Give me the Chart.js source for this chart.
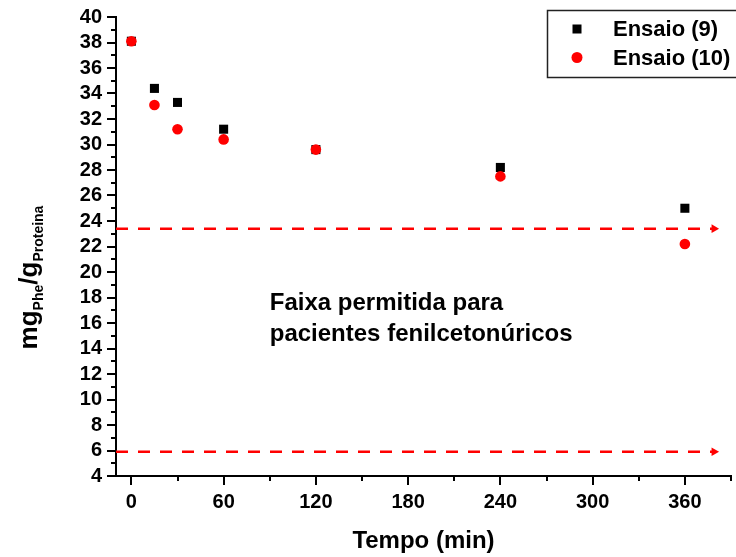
<!DOCTYPE html>
<html><head><meta charset="utf-8">
<script src="https://cdn.jsdelivr.net/npm/chart.js@4.4.0/dist/chart.umd.min.js"></script>
<style>html,body{margin:0;padding:0;background:#fff}#wrap{width:736px;height:557px;position:relative}</style>
</head><body><div id="wrap"><canvas id="c"></canvas></div>
<script>
const times = [0, 15, 30, 60, 120, 240, 360];
const ensaio9 = [38.1, 34.4, 33.3, 31.2, 29.6, 28.2, 25.0];
const ensaio10 = [38.1, 33.1, 31.2, 30.4, 29.6, 27.5, 22.2];
const seriesLabels = ['Ensaio (9)', 'Ensaio (10)'];
const limitUpper = 23.4;
const limitLower = 5.9;
const limitX = [-10, 379];
const xTicks = [0, 60, 120, 180, 240, 300, 360];
const xMinorTicks = [30, 90, 150, 210, 270, 330, 390];
const yTicks = [4, 6, 8, 10, 12, 14, 16, 18, 20, 22, 24, 26, 28, 30, 32, 34, 36, 38, 40];
const yMinorTicks = [5, 7, 9, 11, 13, 15, 17, 19, 21, 23, 25, 27, 29, 31, 33, 35, 37, 39];
const xRange = [-10, 390];
const yRange = [4, 40];
const xTitle = 'Tempo (min)';
const yTitleParts = [['mg', false], ['Phe', true], ['/g', false], ['Proteina', true]];
const annotationLines = ['Faixa permitida para', 'pacientes fenilcetonúricos'];

const FONT = "'Liberation Sans', Arial, sans-serif";
const RED = '#ff0000';

const pts = (ys) => times.map((t, i) => ({x: t, y: ys[i]}));
const hline = (v) => limitX.map(x => ({x: x, y: v}));

const limitStyle = {
  type: 'line', showLine: true, borderColor: RED, borderWidth: 2.5, borderDash: [12, 10],
  pointRadius: [0, 5], pointStyle: 'triangle', rotation: 90,
  pointBackgroundColor: RED, pointBorderWidth: 0, order: 2, fill: false
};

const extras = {
  id: 'extras',
  afterDraw(chart) {
    const {ctx, chartArea: a, scales: {x, y}} = chart;
    ctx.save();
    ctx.strokeStyle = '#000'; ctx.lineWidth = 2;
    ctx.beginPath();
    xMinorTicks.forEach(v => { const px = Math.round(x.getPixelForValue(v)); ctx.moveTo(px, a.bottom); ctx.lineTo(px, a.bottom + 5); });
    yMinorTicks.forEach(v => { const py = Math.round(y.getPixelForValue(v)); ctx.moveTo(a.left, py); ctx.lineTo(a.left - 5, py); });
    ctx.stroke();

    // y axis title with subscripts
    ctx.fillStyle = '#000';
    const big = 'bold 26px ' + FONT, small = 'bold 14px ' + FONT;
    let total = 0;
    const widths = yTitleParts.map(([t, sub]) => { ctx.font = sub ? small : big; const w = ctx.measureText(t).width; total += w; return w; });
    ctx.translate(37, (a.top + a.bottom) / 2 + 31);
    ctx.rotate(-Math.PI / 2);
    ctx.textBaseline = 'alphabetic'; ctx.textAlign = 'left';
    let cx = -total / 2;
    yTitleParts.forEach(([t, sub], i) => { ctx.font = sub ? small : big; ctx.fillText(t, cx, sub ? 5.5 : 0); cx += widths[i]; });
    ctx.setTransform(1, 0, 0, 1, 0, 0);

    // annotation text
    ctx.font = 'bold 24px ' + FONT;
    ctx.textAlign = 'left'; ctx.textBaseline = 'alphabetic';
    const ax = x.getPixelForValue(90);
    const ay = y.getPixelForValue(17.0);
    annotationLines.forEach((l, i) => ctx.fillText(l, ax, ay + i * 30.5));

    // legend
    ctx.fillStyle = '#fff';
    ctx.fillRect(547, 10, 195, 67);
    ctx.strokeStyle = '#222'; ctx.lineWidth = 1.5;
    ctx.strokeRect(547.5, 10.5, 195, 67);
    chart.data.datasets.slice(0, 2).forEach((ds, i) => {
      const my = 29 + i * 28.5;
      ctx.fillStyle = ds.backgroundColor;
      if (ds.pointStyle === 'rect') { ctx.fillRect(577 - 4.5, my - 4.5, 9, 9); }
      else { ctx.beginPath(); ctx.arc(577, my, 5.5, 0, Math.PI * 2); ctx.fill(); }
      ctx.fillStyle = '#000';
      ctx.font = 'bold 22px ' + FONT; ctx.textBaseline = 'middle';
      ctx.fillText(ds.label, 613, my + 1);
    });
    ctx.restore();
  }
};

new Chart(document.getElementById('c'), {
  type: 'scatter',
  data: {
    datasets: [
      {label: seriesLabels[0], data: pts(ensaio9), backgroundColor: '#000', borderColor: '#000', pointStyle: 'rect', pointRadius: 6.4, borderWidth: 0, order: 1},
      {label: seriesLabels[1], data: pts(ensaio10), backgroundColor: RED, borderColor: RED, pointStyle: 'circle', pointRadius: 5.3, borderWidth: 0, order: 0},
      Object.assign({label: 'upper', data: hline(limitUpper)}, limitStyle),
      Object.assign({label: 'lower', data: hline(limitLower)}, limitStyle)
    ]
  },
  options: {
    responsive: true, maintainAspectRatio: false, animation: false,
    layout: {autoPadding: false, padding: {left: 0, right: 5, top: 17, bottom: 0}},
    plugins: {legend: {display: false}, tooltip: {enabled: false}},
    scales: {
      x: {
        type: 'linear', min: xRange[0], max: xRange[1],
        afterBuildTicks: s => { s.ticks = xTicks.map(v => ({value: v})); },
        afterFit: s => { s.height = 81; },
        grid: {display: true, drawOnChartArea: false, drawTicks: true, tickLength: 9, color: '#000', lineWidth: 2},
        border: {display: true, color: '#000', width: 2},
        ticks: {color: '#000', font: {family: FONT, size: 20, weight: 'bold'}, padding: 5, maxRotation: 0, autoSkip: false},
        title: {display: true, text: xTitle, color: '#000', font: {family: FONT, size: 24, weight: 'bold'}, padding: {top: 0, bottom: 1}}
      },
      y: {
        type: 'linear', min: yRange[0], max: yRange[1],
        afterBuildTicks: s => { s.ticks = yTicks.map(v => ({value: v})); },
        afterFit: s => { s.width = 116; },
        grid: {display: true, drawOnChartArea: false, drawTicks: true, tickLength: 9, color: '#000', lineWidth: 2},
        border: {display: true, color: '#000', width: 2},
        ticks: {color: '#000', font: {family: FONT, size: 20, weight: 'bold'}, padding: 5, autoSkip: false},
        title: {display: false}
      }
    }
  },
  plugins: [extras]
});
</script></body></html>
